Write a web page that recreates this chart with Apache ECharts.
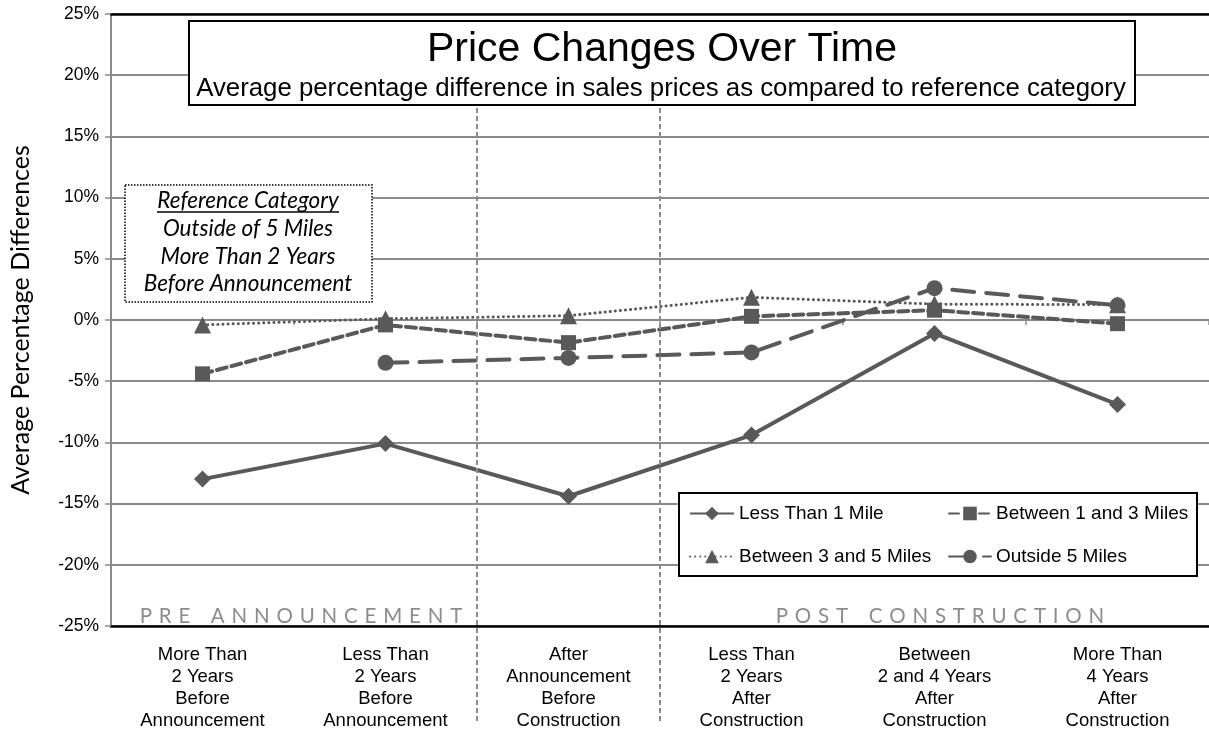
<!DOCTYPE html>
<html>
<head>
<meta charset="utf-8">
<title>Price Changes Over Time</title>
<script src="https://cdn.jsdelivr.net/npm/echarts@6/dist/echarts.min.js"></script>
<style>
  html, body { margin: 0; padding: 0; background: #fff; }
  #main { width: 1209px; height: 733px; }
</style>
</head>
<body>
<div id="main"></div>
<script>
// time periods (x axis)
const categories = [
  'More Than\n2 Years\nBefore\nAnnouncement',
  'Less Than\n2 Years\nBefore\nAnnouncement',
  'After\nAnnouncement\nBefore\nConstruction',
  'Less Than\n2 Years\nAfter\nConstruction',
  'Between\n2 and 4 Years\nAfter\nConstruction',
  'More Than\n4 Years\nAfter\nConstruction'
]

// average % difference vs reference category
const lessThan1Mile = [-13.0, -10.1, -14.4, -9.4, -1.1, -6.9]
const between1And3Miles = [-4.4, -0.4, -1.85, 0.3, 0.8, -0.3]
const between3And5Miles = [-0.4, 0.1, 0.35, 1.85, 1.3, 1.25]
const outside5Miles = [null, -3.5, -3.1, -2.65, 2.6, 1.2]

const yMin = -25
const yMax = 25
const yStep = 5

const grey = '#595959'
const arial = '"Liberation Sans", Arial, sans-serif'
const calibri = 'Lato, "Open Sans", sans-serif'

function spaced (word) {
  return word.split(' ').map(w => w.split('').join('\u2004')).join('\u2002\u2002')
}

const myChart = echarts.init(document.getElementById('main'))

function lineSeries (name, data, symbol, size, lineStyle) {
  return {
    name: name,
    type: 'line',
    data: data,
    symbol: symbol,
    symbolSize: size,
    connectNulls: false,
    itemStyle: { color: grey },
    lineStyle: Object.assign({ color: grey }, lineStyle),
    emphasis: { disabled: true },
    animation: false
  }
}

const legendText = { fontFamily: arial, fontSize: 19, color: '#000', padding: 0 }

const option = {
  animation: false,
  grid: { left: 108, right: 0, top: 14, bottom: 107, containLabel: false },
  xAxis: [
    {
      type: 'category',
      data: categories,
      position: 'bottom',
      axisLine: { onZero: false, lineStyle: { color: '#000', width: 2.5 } },
      axisTick: { show: false },
      axisLabel: {
        interval: 0,
        margin: 18,
        color: '#000',
        fontFamily: arial,
        fontSize: 18.5,
        lineHeight: 22
      }
    },
    {
      type: 'category',
      data: categories,
      position: 'top',
      axisLine: { onZero: false, lineStyle: { color: '#000', width: 2.5 } },
      axisTick: { show: false },
      axisLabel: { show: false }
    },
    {
      type: 'category',
      data: categories,
      position: 'bottom',
      axisLine: { onZero: true, lineStyle: { color: '#8a8a8a', width: 2 } },
      axisTick: { show: true, length: 5, lineStyle: { color: '#8a8a8a', width: 1.5 } },
      axisLabel: { show: false }
    }
  ],
  yAxis: {
    type: 'value',
    min: yMin,
    max: yMax,
    interval: yStep,
    name: 'Average Percentage Differences',
    nameLocation: 'middle',
    nameGap: 78,
    nameTextStyle: { fontFamily: calibri, fontSize: 25, color: '#000' },
    axisLine: { show: true, lineStyle: { color: '#8a8a8a', width: 2 } },
    axisTick: { show: true, length: 6, lineStyle: { color: '#8a8a8a', width: 1.5 } },
    axisLabel: {
      margin: 12,
      color: '#000',
      fontFamily: arial,
      fontSize: 17.5,
      formatter: v => v + '%'
    },
    splitLine: { show: true, lineStyle: { color: '#8a8a8a', width: 2 } }
  },
  legend: [
    {
      data: ['Less Than 1 Mile', 'Between 3 and 5 Miles'],
      orient: 'vertical',
      left: 689,
      top: 504,
      itemWidth: 44,
      itemHeight: 17,
      itemGap: 24,
      padding: 0,
      textStyle: legendText,
      z: 20
    },
    {
      data: ['Between 1 and 3 Miles', 'Outside 5 Miles'],
      orient: 'vertical',
      left: 948,
      top: 504,
      itemWidth: 42,
      itemHeight: 17,
      itemGap: 24,
      padding: 0,
      textStyle: legendText,
      z: 20
    }
  ],
  series: [
    lineSeries('Less Than 1 Mile', lessThan1Mile, 'diamond', 17, { width: 4, type: 'solid' }),
    lineSeries('Between 1 and 3 Miles', between1And3Miles, 'rect', 15, { width: 4, type: [10, 5], cap: 'round' }),
    lineSeries('Between 3 and 5 Miles', between3And5Miles, 'triangle', 17, { width: 3, type: [0.1, 5], cap: 'round' }),
    lineSeries('Outside 5 Miles', outside5Miles, 'circle', 16, { width: 4, type: [22, 12], cap: 'round' })
  ]
}

myChart.setOption(option)

// dashed phase separators between categories, plus boxes and notes
const x2 = myChart.convertToPixel({ xAxisIndex: 0 }, 1)
const x3 = myChart.convertToPixel({ xAxisIndex: 0 }, 2)
const x4 = myChart.convertToPixel({ xAxisIndex: 0 }, 3)
const sep1 = (x2 + x3) / 2
const sep2 = (x3 + x4) / 2
const yBottom = myChart.convertToPixel({ yAxisIndex: 0 }, yMin)
const sepStyle = { stroke: '#8c8c8c', lineWidth: 2, lineDash: [5, 3] }
const noteFont = 'italic 22.5px ' + calibri

myChart.setOption({
  graphic: [
    { type: 'line', z: 5, shape: { x1: sep1, y1: 100, x2: sep1, y2: 722 }, style: sepStyle },
    { type: 'line', z: 5, shape: { x1: sep2, y1: 100, x2: sep2, y2: 722 }, style: sepStyle },
    // title box
    { type: 'rect', z: 30, shape: { x: 189, y: 21, width: 946, height: 84 }, style: { fill: '#fff', stroke: '#000', lineWidth: 2 } },
    { type: 'text', z: 31, x: 662, y: 50, style: { text: 'Price Changes Over Time', font: '41px ' + arial, fill: '#000', textAlign: 'center', textVerticalAlign: 'middle' } },
    { type: 'text', z: 31, x: 661, y: 89, style: { text: 'Average percentage difference in sales prices as compared to reference category', font: '25.8px ' + arial, fill: '#000', textAlign: 'center', textVerticalAlign: 'middle' } },
    // reference category note
    { type: 'rect', z: 30, shape: { x: 125, y: 185, width: 247, height: 117 }, style: { fill: '#fff', stroke: '#000', lineWidth: 1.5, lineDash: [1.5, 1.5] } },
    { type: 'text', z: 31, x: 248, y: 201, style: { text: 'Reference Category', font: noteFont, fill: '#000', textAlign: 'center', textVerticalAlign: 'middle' } },
    { type: 'line', z: 31, shape: { x1: 157, y1: 212, x2: 339, y2: 212 }, style: { stroke: '#000', lineWidth: 1.3 } },
    { type: 'text', z: 31, x: 248, y: 229, style: { text: 'Outside of 5 Miles', font: noteFont, fill: '#000', textAlign: 'center', textVerticalAlign: 'middle' } },
    { type: 'text', z: 31, x: 248, y: 257, style: { text: 'More Than 2 Years', font: noteFont, fill: '#000', textAlign: 'center', textVerticalAlign: 'middle' } },
    { type: 'text', z: 31, x: 248, y: 284, style: { text: 'Before Announcement', font: noteFont, fill: '#000', textAlign: 'center', textVerticalAlign: 'middle' } },
    // legend frame
    { type: 'rect', z: 15, shape: { x: 679, y: 493, width: 518, height: 83 }, style: { fill: '#fff', stroke: '#000', lineWidth: 2 } },
    // phase labels
    { type: 'text', z: 6, x: 301, y: yBottom - 10, style: { text: spaced('PRE ANNOUNCEMENT'), font: '20.5px ' + calibri, fill: '#8c8c8c', textAlign: 'center', textVerticalAlign: 'middle' } },
    { type: 'text', z: 6, x: 940, y: yBottom - 10, style: { text: spaced('POST CONSTRUCTION'), font: '20.5px ' + calibri, fill: '#8c8c8c', textAlign: 'center', textVerticalAlign: 'middle' } }
  ]
})
</script>
</body>
</html>
